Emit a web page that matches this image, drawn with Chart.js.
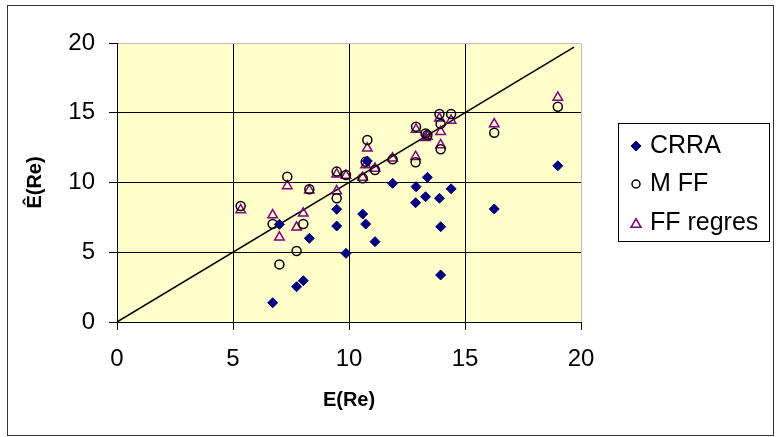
<!DOCTYPE html>
<html>
<head>
<meta charset="utf-8">
<script src="https://cdn.jsdelivr.net/npm/chart.js@4.4.1/dist/chart.umd.min.js"></script>
<style>
  html, body { margin: 0; padding: 0; background: #fff; }
  #wrap { position: relative; width: 778px; height: 437px; }
</style>
</head>
<body>
<div id="wrap"><canvas id="chart" width="778" height="437"></canvas></div>
<script>
"use strict";

// E(Re) of each asset, and the three estimates of it
const eRe      = [5.33, 6.71, 7.00, 7.34, 7.74, 8.03, 8.29, 9.47, 9.47, 9.87, 10.59, 10.72, 10.79, 11.12, 11.88, 12.89, 12.87, 13.30, 13.38, 13.90, 13.95, 13.95, 14.40, 16.26, 19.00];
const crra     = [null, 1.38, 7.00, null, 2.53, 2.96, 6.00, 8.08, 6.88, 4.92, 7.74, 7.02, 11.54, 5.76, 9.94, 9.70, 8.55, 8.98, 10.37, 8.87, 6.83, 3.37, 9.55, 8.10, 11.20];
const mFF      = [8.32, 7.02, 4.13, 10.42, 5.09, 7.02, 9.51, 10.78, 8.87, 10.54, 10.30, 11.49, 13.05, 10.90, 11.66, 14.00, 11.45, 13.52, 13.40, 14.91, 14.20, 12.38, 14.91, 13.57, 15.43];
const ffRegres = [8.03, 7.67, 6.07, 9.75, 6.79, 7.79, 9.45, 10.60, 9.39, 10.50, 10.35, 11.25, 12.45, 11.00, 11.73, 13.80, 11.85, 13.20, 13.30, 14.60, 13.64, 12.69, 14.45, 14.19, 16.10];
const diagLine = [0, 19.7];
const axisTicks = [0, 5, 10, 15, 20];
const seriesNames = ['CRRA', 'M FF', 'FF regres'];

const FONT = "'Liberation Sans', Arial, sans-serif";

function toPoints(ys) {
    return eRe.map((x, i) => ({x: x, y: ys[i]})).filter(p => p.y !== null);
}

// legend markers, drawn by hand
function drawMarker(ctx, style, x, y, r) {
    ctx.save();
    ctx.beginPath();
    if (style === 'rectRot') {
        ctx.moveTo(x, y - r);
        ctx.lineTo(x + r, y);
        ctx.lineTo(x, y + r);
        ctx.lineTo(x - r, y);
        ctx.closePath();
        ctx.fillStyle = '#000080';
        ctx.strokeStyle = '#000080';
        ctx.lineWidth = 1;
        ctx.fill();
        ctx.stroke();
    } else if (style === 'circle') {
        ctx.arc(x, y, r, 0, Math.PI * 2);
        ctx.strokeStyle = '#000';
        ctx.lineWidth = 1.5;
        ctx.stroke();
    } else {
        const h = r * 1.7;
        ctx.moveTo(x, y - h / 2);
        ctx.lineTo(x + r, y + h / 2);
        ctx.lineTo(x - r, y + h / 2);
        ctx.closePath();
        ctx.strokeStyle = '#800080';
        ctx.lineWidth = 1.5;
        ctx.stroke();
    }
    ctx.restore();
}

const backgroundPlugin = {
    id: 'background',
    beforeDraw(chart) {
        const {ctx, chartArea: a} = chart;
        ctx.save();
        ctx.fillStyle = '#fff';
        ctx.fillRect(0, 0, chart.width, chart.height);
        ctx.fillStyle = '#ffffcc';
        ctx.fillRect(a.left, a.top, a.right - a.left, a.bottom - a.top);
        ctx.restore();
    }
};

const framePlugin = {
    id: 'frame',
    afterDraw(chart) {
        const ctx = chart.ctx;
        ctx.save();
        // outer border of the chart
        ctx.strokeStyle = '#333';
        ctx.lineWidth = 1;
        ctx.strokeRect(7.5, 5.5, 766, 430);

        // legend box
        ctx.strokeStyle = '#000';
        ctx.strokeRect(618.5, 123.5, 151, 118);
        const styles = ['rectRot', 'circle', 'triangle'];
        const rowY = [146, 184, 223];
        ctx.font = '25px ' + FONT;
        ctx.fillStyle = '#000';
        ctx.textBaseline = 'middle';
        ctx.textAlign = 'left';
        seriesNames.forEach((name, i) => {
            drawMarker(ctx, styles[i], 636, rowY[i], i === 1 ? 4 : 5);
            ctx.fillText(name, 650, rowY[i]);
        });
        ctx.restore();
    }
};

const tickFont = {family: FONT, size: 24};
const titleFont = {family: FONT, size: 20, weight: 'bold'};

const gridColor = (c) => (c.tick && c.tick.value === 20 ? '#c0c0c0' : '#000');

const chart = new Chart(document.getElementById('chart'), {
    type: 'scatter',
    data: {
        datasets: [
            {
                label: seriesNames[0],
                data: toPoints(crra),
                pointStyle: 'rectRot',
                pointRadius: 5,
                backgroundColor: '#000080',
                borderColor: '#000080',
                borderWidth: 1,
            },
            {
                label: seriesNames[1],
                data: toPoints(mFF),
                pointStyle: 'circle',
                pointRadius: 4.5,
                backgroundColor: 'rgba(0,0,0,0)',
                borderColor: '#000',
                borderWidth: 1.5,
            },
            {
                label: seriesNames[2],
                data: toPoints(ffRegres),
                pointStyle: 'triangle',
                pointRadius: 5.5,
                backgroundColor: 'rgba(0,0,0,0)',
                borderColor: '#800080',
                borderWidth: 1.5,
            },
            {
                label: 'line',
                data: diagLine.map(v => ({x: v, y: v})),
                showLine: true,
                pointRadius: 0,
                borderColor: '#000',
                borderWidth: 1.5,
            },
        ]
    },
    options: {
        responsive: false,
        animation: false,
        devicePixelRatio: 1,
        layout: {
            padding: {left: 19, top: 43, right: 197, bottom: 21}
        },
        plugins: {
            legend: {display: false},
            tooltip: {enabled: false},
        },
        scales: {
            x: {
                type: 'linear',
                min: 0,
                max: 20,
                afterBuildTicks: s => { s.ticks = axisTicks.map(v => ({value: v})); },
                afterFit: s => { s.height = 94; },
                ticks: {font: tickFont, color: '#000', padding: 15, maxRotation: 0},
                grid: {color: gridColor, tickColor: '#000', tickLength: 8, lineWidth: 1},
                border: {color: '#000', width: 1},
                title: {display: true, text: 'E(Re)', font: titleFont, color: '#000', padding: {top: 4, bottom: 4}},
            },
            y: {
                type: 'linear',
                min: 0,
                max: 20,
                afterBuildTicks: s => { s.ticks = axisTicks.map(v => ({value: v})); },
                afterFit: s => { s.width = 98; },
                ticks: {font: tickFont, color: '#000', padding: 14},
                grid: {color: gridColor, tickColor: '#000', tickLength: 8, lineWidth: 1},
                border: {color: '#000', width: 1},
                title: {display: true, text: 'Ê(Re)', font: titleFont, color: '#000', padding: {top: 4, bottom: 4}},
            }
        }
    },
    plugins: [backgroundPlugin, framePlugin]
});
</script>
</body>
</html>
